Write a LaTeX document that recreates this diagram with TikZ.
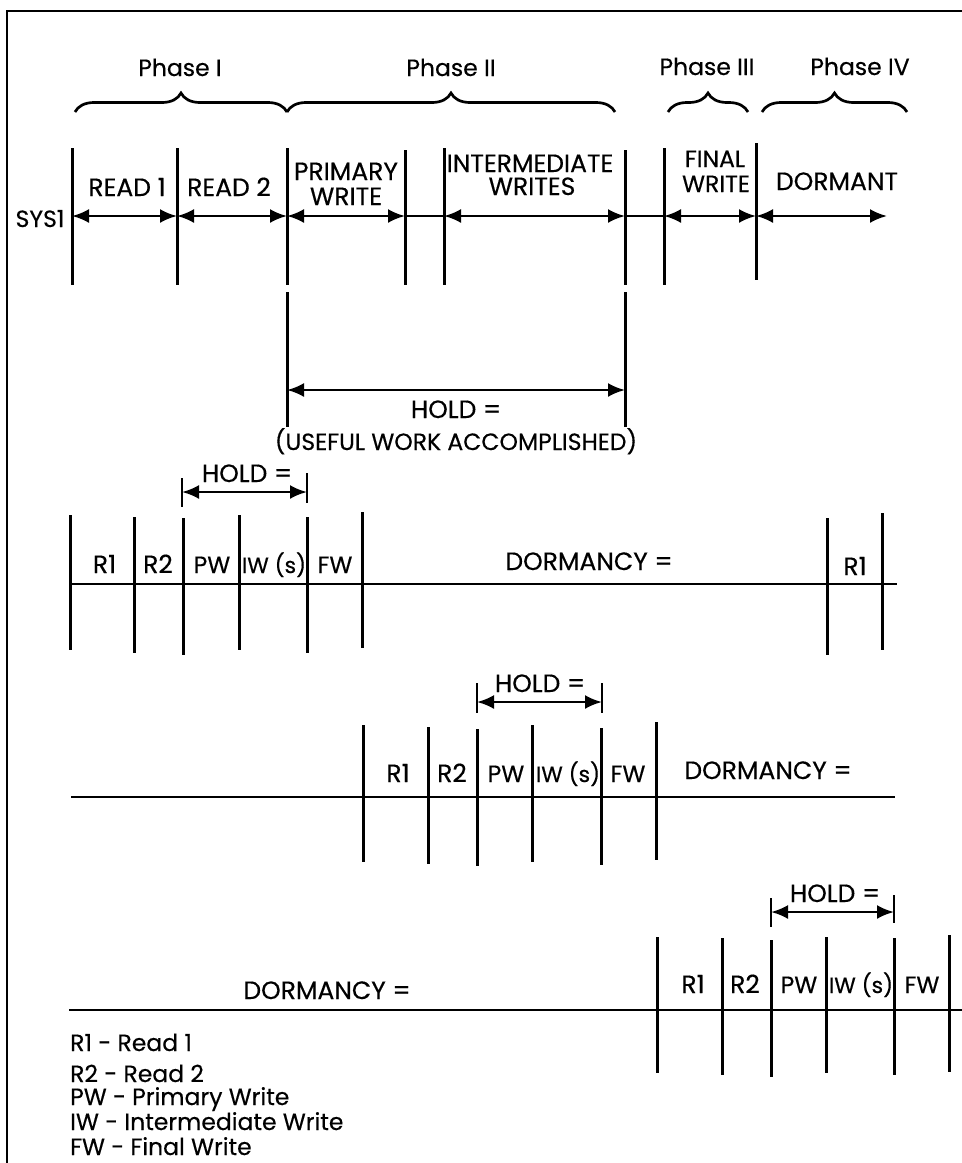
\documentclass[tikz,border=0pt]{standalone}
\usepackage{fontspec}
\setmainfont{Poppins}[FakeBold=0.4]
\usetikzlibrary{arrows.meta,decorations.pathreplacing}
\begin{document}
\begin{tikzpicture}[x=1pt,y=-1pt,
  frame/.style={line width=2.8pt},
  bar/.style={line width=3pt},
  tick/.style={line width=2.6pt},
  hline/.style={line width=2.8pt},
  dim/.style={line width=2.5pt,{Latex[length=17pt,width=14pt]}-{Latex[length=17pt,width=14pt]}},
  plain/.style={line width=2.5pt},
  brc/.style={line width=2.7pt,decorate,decoration={brace,amplitude=19pt}},
  lbl/.style={inner sep=0pt,anchor=base,font=\fontsize{25}{28}\selectfont},
  sm/.style={font=\fontsize{23.5}{26}\selectfont},
  xs/.style={font=\fontsize{22}{26}\selectfont},
  leg/.style={inner sep=0pt,anchor=base west,font=\fontsize{23.5}{26}\selectfont},
]
\useasboundingbox (0,0) rectangle (962,1163);
% frame
\coordinate (fr1) at (962,11);
\coordinate (fr2) at (7,11);
\coordinate (fr3) at (7,1163);
\draw[frame] (fr1) -- (fr2) -- (fr3);

% ---------- phases ----------
\coordinate (b1a) at (75,112);  \coordinate (b1b) at (287,112);
\coordinate (b2a) at (287,112); \coordinate (b2b) at (615,112);
\coordinate (b3a) at (668,112); \coordinate (b3b) at (748,112);
\coordinate (b4a) at (762,112); \coordinate (b4b) at (907,112);
\draw[brc] (b1a) -- (b1b);
\draw[brc] (b2a) -- (b2b);
\draw[brc] (b3a) -- (b3b);
\draw[brc] (b4a) -- (b4b);
\node[lbl,sm] (ph1) at (180,76) {Phase I};
\node[lbl,sm] (ph2) at (451,76) {Phase II};
\node[lbl,sm] (ph3) at (707,75) {Phase III};
\node[lbl,sm] (ph4) at (860,75) {Phase IV};

% ---------- SYS1 row ----------
\foreach \n/\x/\t/\b in {s0/72/148/285, s1/177/148/285, s2/287/148/285, s3/405/150/285,
                         s4/444/148/285, s5/625/150/285, s6/664/148/285, s7/756/143/280}{
  \coordinate (\n t) at (\x,\t);
  \coordinate (\n b) at (\x,\b);
  \coordinate (\n m) at (\x,216);
  \draw[bar] (\n t) -- (\n b);
}
\coordinate (s8m) at (887,216);
\draw[dim] (s0m) -- (s1m);
\draw[dim] (s1m) -- (s2m);
\draw[dim] (s2m) -- (s3m);
\draw[plain] (s3m) -- (s4m);
\draw[dim] (s4m) -- (s5m);
\draw[plain] (s5m) -- (s6m);
\draw[dim] (s6m) -- (s7m);
\draw[dim] (s7m) -- (s8m);
\node[lbl,sm] (sys) at (40,227) {SYS1};
\node[lbl] (rd1) at (127,196) {READ 1};
\node[lbl] (rd2) at (229,196) {READ 2};
\node[lbl] (pw1) at (346,180) {PRIMARY};
\node[lbl] (pw2) at (346,205) {WRITE};
\node[lbl] (iw1) at (530,172) {INTERMEDIATE};
\node[lbl] (iw2) at (532,195) {WRITES};
\node[lbl,sm] (fw1) at (715,167) {FINAL};
\node[lbl,sm] (fw2) at (716,192) {WRITE};
\node[lbl] (dor) at (837,190) {DORMANT};

% ---------- big HOLD ----------
\coordinate (ha t) at (287,292); \coordinate (ha b) at (287,427);
\coordinate (hb t) at (625,292); \coordinate (hb b) at (625,427);
\coordinate (ha m) at (287,390); \coordinate (hb m) at (625,390);
\draw[bar] (ha t) -- (ha b);
\draw[bar] (hb t) -- (hb b);
\draw[dim] (ha m) -- (hb m);
\node[lbl] (hold0) at (456,418) {HOLD =};
\node[lbl,sm] (useful) at (456,450) {(USEFUL WORK ACCOMPLISHED)};

% ---------- row 2 ----------
\coordinate (p2a t) at (182,478); \coordinate (p2a b) at (182,507); \coordinate (p2a m) at (182,492);
\coordinate (p2b t) at (307,473); \coordinate (p2b b) at (307,503); \coordinate (p2b m) at (307,492);
\draw[tick] (p2a t) -- (p2a b);
\draw[tick] (p2b t) -- (p2b b);
\draw[dim] (p2a m) -- (p2b m);
\node[lbl] (hold2) at (247,482) {HOLD =};
\foreach \n/\x/\t/\b in {r2a/70/515/650, r2b/134/517/653, r2c/183/518/655, r2d/239/515/650,
                         r2e/307/517/653, r2f/362/512/648, r2g/827/518/655, r2h/882/513/650}{
  \coordinate (\n t) at (\x,\t);
  \coordinate (\n b) at (\x,\b);
  \draw[bar] (\n t) -- (\n b);
}
\coordinate (r2L) at (70,584); \coordinate (r2R) at (897,584);
\draw[hline] (r2L) -- (r2R);
\node[lbl] (r2R1) at (104.5,573) {R1};
\node[lbl] (r2R2) at (158,573) {R2};
\node[lbl,sm] (r2PW) at (212,573) {PW};
\node[lbl,xs] (r2IW) at (274,573) {IW (s)};
\node[lbl,sm] (r2FW) at (335,573) {FW};
\node[lbl] (r2D) at (589,570) {DORMANCY =};
\node[lbl] (r2R1b) at (855,575) {R1};

% ---------- row 3 ----------
\coordinate (p3a t) at (477,683); \coordinate (p3a b) at (477,713); \coordinate (p3a m) at (477,702);
\coordinate (p3b t) at (602,683); \coordinate (p3b b) at (602,713); \coordinate (p3b m) at (602,702);
\draw[tick] (p3a t) -- (p3a b);
\draw[tick] (p3b t) -- (p3b b);
\draw[dim] (p3a m) -- (p3b m);
\node[lbl] (hold3) at (540,692) {HOLD =};
\foreach \n/\x/\t/\b in {r3a/363/725/862, r3b/428/727/864, r3c/477/729/866,
                         r3d/532/725/862, r3e/601/728/865, r3f/656/722/860}{
  \coordinate (\n t) at (\x,\t);
  \coordinate (\n b) at (\x,\b);
  \draw[bar] (\n t) -- (\n b);
}
\coordinate (r3L) at (71,797); \coordinate (r3R) at (895,797);
\draw[hline] (r3L) -- (r3R);
\node[lbl] (r3R1) at (398,782) {R1};
\node[lbl] (r3R2) at (452,782) {R2};
\node[lbl,sm] (r3PW) at (506,782) {PW};
\node[lbl,xs] (r3IW) at (568,782) {IW (s)};
\node[lbl,sm] (r3FW) at (628,782) {FW};
\node[lbl] (r3D) at (768,779) {DORMANCY =};

% ---------- row 4 ----------
\coordinate (p4a t) at (771,898); \coordinate (p4a b) at (771,927); \coordinate (p4a m) at (771,912);
\coordinate (p4b t) at (894,895); \coordinate (p4b b) at (894,923); \coordinate (p4b m) at (894,912);
\draw[tick] (p4a t) -- (p4a b);
\draw[tick] (p4b t) -- (p4b b);
\draw[dim] (p4a m) -- (p4b m);
\node[lbl] (hold4) at (835,902) {HOLD =};
\foreach \n/\x/\t/\b in {r4a/657/937/1073, r4b/722/938/1075, r4c/771/940/1077,
                         r4d/826/937/1073, r4e/894/938/1075, r4f/949/935/1072}{
  \coordinate (\n t) at (\x,\t);
  \coordinate (\n b) at (\x,\b);
  \draw[bar] (\n t) -- (\n b);
}
\coordinate (r4L) at (69,1010); \coordinate (r4R) at (962,1010);
\draw[hline] (r4L) -- (r4R);
\node[lbl] (r4D) at (327,999) {DORMANCY =};
\node[lbl] (r4R1) at (693,993) {R1};
\node[lbl] (r4R2) at (745,993) {R2};
\node[lbl,sm] (r4PW) at (799,993) {PW};
\node[lbl,xs] (r4IW) at (861,993) {IW (s)};
\node[lbl,sm] (r4FW) at (922,993) {FW};

% ---------- legend ----------
\node[leg] (lg1) at (70,1051) {R1 - Read 1};
\node[leg] (lg2) at (70,1082) {R2 - Read 2};
\node[leg] (lg3) at (70,1105) {PW - Primary Write};
\node[leg] (lg4) at (70,1130) {IW - Intermediate Write};
\node[leg] (lg5) at (70,1155) {FW - Final Write};
\end{tikzpicture}
\end{document}
